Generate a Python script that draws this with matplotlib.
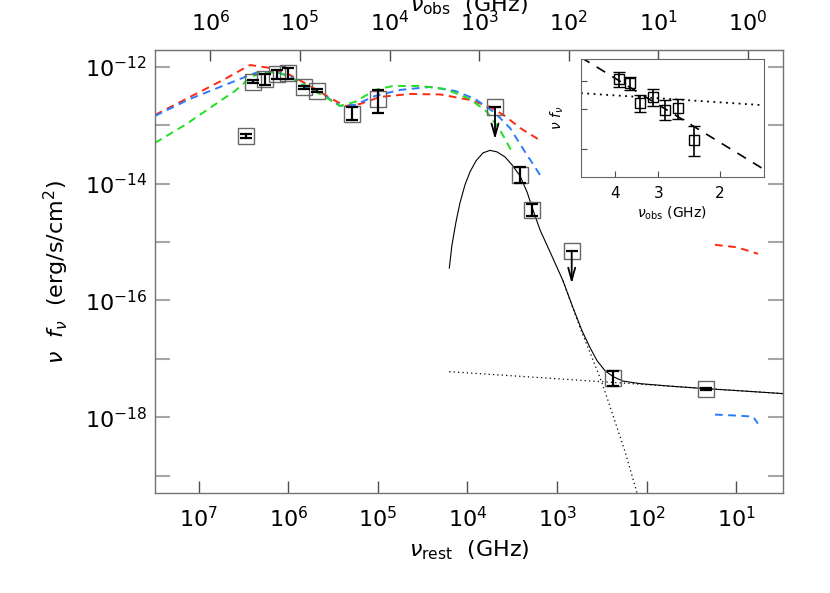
import numpy as np
import matplotlib
matplotlib.use('Agg')
import matplotlib.pyplot as plt
from matplotlib.ticker import FixedLocator, NullLocator, NullFormatter, FixedFormatter

# redshift factor between rest and observed frame
one_plus_z = 7.4

# model curves (log10 nu_rest [GHz], log10 nu f_nu [erg/s/cm2])
red_lognu = [7.488, 7.097, 6.706, 6.427, 6.204, 5.981, 5.757, 5.534, 5.367, 5.199,
             4.976, 4.641, 4.307, 3.972, 3.749, 3.582, 3.414, 3.180]
red_logf = [-12.826, -12.518, -12.210, -11.971, -12.022, -12.142, -12.330, -12.535, -12.672, -12.638,
            -12.518, -12.467, -12.475, -12.569, -12.689, -12.843, -13.048, -13.270]
red2_lognu = [1.238, 0.992, 0.758]
red2_logf = [-15.048, -15.091, -15.202]

blue_lognu = [7.488, 7.097, 6.762, 6.483, 6.338, 6.148, 5.981, 5.813, 5.590, 5.423,
              5.255, 5.032, 4.753, 4.418, 4.139, 3.916, 3.693, 3.526, 3.358, 3.191]
blue_logf = [-12.843, -12.552, -12.347, -12.176, -12.091, -12.091, -12.159, -12.347, -12.501, -12.672,
             -12.655, -12.501, -12.398, -12.347, -12.415, -12.552, -12.791, -13.048, -13.458, -13.851]
blue2_lognu = [1.238, 0.992, 0.814, 0.758]
blue2_logf = [-17.954, -17.971, -17.988, -18.108]

green_lognu = [7.488, 7.153, 6.874, 6.595, 6.427, 6.293, 6.093, 5.869, 5.646, 5.423,
               5.255, 5.032, 4.831, 4.530, 4.251, 3.972, 3.782, 3.637, 3.503]
green_logf = [-13.304, -12.997, -12.706, -12.415, -12.193, -12.091, -12.108, -12.262, -12.467, -12.672,
              -12.603, -12.398, -12.330, -12.330, -12.381, -12.552, -12.774, -13.082, -13.458]

# total model (solid) and its two components (dotted)
tot_lognu = [4.203, 4.173, 4.128, 4.084, 4.028, 3.972, 3.905, 3.827, 3.749, 3.671,
             3.582, 3.503, 3.414, 3.336, 3.269, 3.191, 3.079, 2.934, 2.822, 2.722,
             2.632, 2.554, 2.465, 2.375, 2.263, 2.074, 1.739, 1.349, 0.903, 0.475]
tot_logf = [-15.446, -15.048, -14.655, -14.330, -14.022, -13.800, -13.612, -13.475, -13.432, -13.458,
            -13.544, -13.680, -13.868, -14.142, -14.450, -14.792, -15.168, -15.664, -16.126, -16.518,
            -16.809, -17.031, -17.203, -17.304, -17.381, -17.424, -17.467, -17.509, -17.552, -17.595]
pl_lognu = [4.203, 0.475]
pl_logf = [-17.219, -17.595]
cut_lognu = [2.934, 2.822, 2.722, 2.632, 2.521, 2.443, 2.353, 2.242, 2.119, 2.052]
cut_logf = [-15.664, -16.142, -16.552, -16.894, -17.321, -17.663, -18.074, -18.586, -19.236, -19.612]

# measurements (nu_rest GHz, nu f_nu, lower, upper)
pt_nu = [2.49e6, 1.82e6, 1.35e6, 1.0e6, 6.62e5, 4.82e5, 1.93e5, 1.0e5, 2.96e6, 2.59e3, 1.92e3, 236, 22.0]
pt_f = [5.55e-13, 6.10e-13, 7.50e-13, 7.89e-13, 4.45e-13, 3.89e-13, 1.55e-13, 2.77e-13, 6.62e-14,
        1.41e-14, 3.55e-15, 4.72e-18, 3.05e-18]
pt_lo = [5.25e-13, 4.86e-13, 6.10e-13, 6.10e-13, 4.20e-13, 3.68e-13, 1.23e-13, 1.64e-13, 6.12e-14,
         1.02e-14, 2.73e-15, 3.39e-18, 2.88e-18]
pt_hi = [5.85e-13, 7.50e-13, 8.79e-13, 9.40e-13, 4.70e-13, 4.10e-13, 2.02e-13, 4.00e-13, 7.16e-14,
         1.91e-14, 4.50e-15, 6.11e-18, 3.22e-18]

# upper limits
ul_nu = [4.93e3, 687]
ul_f = [2.02e-13, 6.89e-16]

# inset: radio points (nu_obs GHz)
in_nu = [3.89, 3.62, 3.38, 3.12, 2.88, 2.64, 2.37]
in_f = [4.08e-18, 3.92e-18, 3.21e-18, 3.41e-18, 2.99e-18, 3.03e-18, 2.19e-18]
in_err = [0.30e-18, 0.25e-18, 0.28e-18, 0.30e-18, 0.30e-18, 0.30e-18, 0.33e-18]
in_dash_nu = [5.0, 1.5]
in_dash_f = [5.10e-18, 1.63e-18]
in_dot_nu = [5.0, 1.5]
in_dot_f = [3.54e-18, 3.13e-18]

rest_ticks = [1e7, 1e6, 1e5, 1e4, 1e3, 1e2, 1e1]
obs_ticks = [1e6, 1e5, 1e4, 1e3, 1e2, 1e1, 1e0]

red = '#ff2a10'
blue = '#2a7cff'
green = '#20e020'
spine_c = '0.45'

fig = plt.figure(figsize=(8.3, 5.93), dpi=100)
ax = fig.add_axes([0.1871, 0.1681, 0.7566, 0.7476])

def p(lognu, logf, **kw):
    ax.plot(10 ** np.array(lognu), 10 ** np.array(logf), **kw)

dash = dict(lw=1.4, dashes=(4, 2.8))
p(red_lognu, red_logf, color=red, **dash)
p(red2_lognu, red2_logf, color=red, **dash)
p(blue_lognu, blue_logf, color=blue, **dash)
p(blue2_lognu, blue2_logf, color=blue, **dash)
p(green_lognu, green_logf, color=green, **dash)
p(tot_lognu, tot_logf, color='k', lw=0.8)
p(pl_lognu, pl_logf, color='k', lw=0.9, ls=(0, (1, 2.5)))
p(cut_lognu, cut_logf, color='k', lw=0.9, ls=(0, (1, 2.5)))

pt_nu = np.array(pt_nu)
pt_f = np.array(pt_f)
yerr = [pt_f - np.array(pt_lo), np.array(pt_hi) - pt_f]
ax.plot(pt_nu, pt_f, 's', ms=11, mfc='none', mec='0.4', mew=1.0)
ax.errorbar(pt_nu, pt_f, yerr=yerr, fmt='none', ecolor='k', elinewidth=1.6, capsize=4, capthick=1.6)

for nu, f in zip(ul_nu, ul_f):
    ax.plot(nu, f, 's', ms=11, mfc='none', mec='0.4', mew=1.0)
    ax.plot(nu, f, '_', ms=8, color='k', mew=1.6)
    ax.annotate('', xy=(nu, f * 10 ** -0.55), xytext=(nu, f),
                arrowprops=dict(arrowstyle='->,head_width=0.25,head_length=0.9', color='k', lw=1.3,
                                shrinkA=0, shrinkB=0))

ax.set_xscale('log')
ax.set_yscale('log')
ax.set_xlim(3.05e7, 2.99)
ax.set_ylim(5.0e-20, 1.93e-12)

ax.yaxis.set_major_locator(FixedLocator([1e-18, 1e-16, 1e-14, 1e-12]))
ax.yaxis.set_minor_locator(FixedLocator([1e-19, 1e-17, 1e-15, 1e-13]))
ax.yaxis.set_minor_formatter(NullFormatter())
ax.xaxis.set_major_locator(FixedLocator(rest_ticks))
ax.xaxis.set_minor_locator(NullLocator())

for s in ax.spines.values():
    s.set_color(spine_c)
    s.set_linewidth(1.0)
ax.tick_params(axis='y', which='both', direction='in', length=11, width=1.5, color='0.65',
               right=True, labelsize=16, pad=6)
ax.tick_params(axis='x', which='both', direction='in', length=9, width=1.0, color='0.3',
               top=False, labelsize=16, pad=9)

ax.set_xlabel(r'$\nu_{\rm rest}$  (GHz)', fontsize=16, labelpad=5)
ax.set_ylabel(r'$\nu\ \ f_\nu$  (erg/s/cm$^2$)', fontsize=16, labelpad=10)

secax = ax.secondary_xaxis('top', functions=(lambda x: x / one_plus_z, lambda x: x * one_plus_z))
secax.xaxis.set_major_locator(FixedLocator(obs_ticks))
secax.xaxis.set_minor_locator(NullLocator())
secax.tick_params(direction='in', length=8, width=1.0, color='0.3', labelsize=16, pad=11)
secax.spines['top'].set_color(spine_c)
fig.text(469 / 830, 1 - 5 / 593, r'$\nu_{\rm obs}$  (GHz)', fontsize=16, ha='center', va='center')

# inset with radio data
axi = fig.add_axes([0.700, 0.701, 0.220, 0.199])
axi.plot(in_dash_nu, in_dash_f, color='k', lw=1.2, dashes=(6, 5))
axi.plot(in_dot_nu, in_dot_f, color='k', lw=1.3, ls=(0, (1, 2.5)))
axi.errorbar(in_nu, in_f, yerr=in_err, fmt='s', ms=7, mfc='none', mec='k', mew=1.0,
             ecolor='k', elinewidth=1.2, capsize=4, capthick=1.2)
axi.set_xscale('log')
axi.set_yscale('log')
axi.set_xlim(5.0, 1.5)
axi.set_ylim(1.5e-18, 5.0e-18)
axi.xaxis.set_major_locator(FixedLocator([2, 3, 4]))
axi.xaxis.set_major_formatter(FixedFormatter(['2', '3', '4']))
axi.xaxis.set_minor_locator(NullLocator())
axi.yaxis.set_major_locator(FixedLocator([2e-18, 3e-18, 4e-18]))
axi.yaxis.set_major_formatter(NullFormatter())
axi.yaxis.set_minor_locator(NullLocator())
axi.tick_params(direction='in', length=4, width=0.8, color='0.3', labelsize=11, pad=6)
for s in axi.spines.values():
    s.set_color('0.4')
axi.set_xlabel(r'$\nu_{\rm obs}$ (GHz)', fontsize=10, labelpad=3)
axi.set_ylabel(r'$\nu\ f_\nu$', fontsize=10, labelpad=5)

fig.savefig('out.png', dpi=100)
